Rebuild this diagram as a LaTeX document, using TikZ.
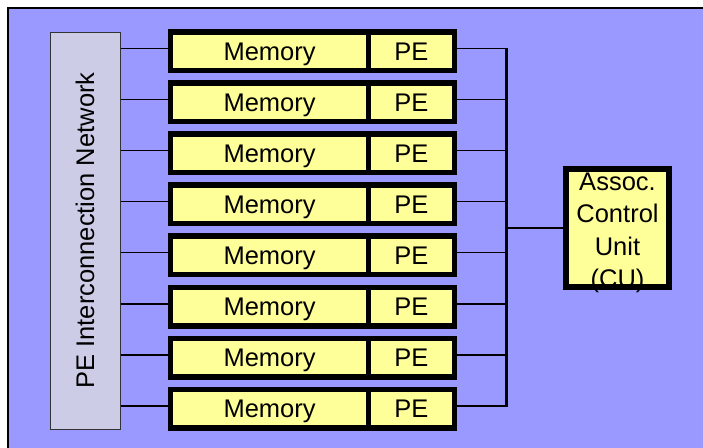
\documentclass[tikz,border=0pt]{standalone}
\usepackage{fontspec}
\setmainfont{Liberation Sans}
\definecolor{bgblue}{HTML}{9999FF}
\definecolor{cellyellow}{HTML}{FFFF99}
\definecolor{netgray}{HTML}{CCCCE6}
\begin{document}
\begin{tikzpicture}[x=1pt,y=-1pt,
  cell/.style={draw=black, line width=5.5pt, fill=cellyellow, minimum height=38.5pt,
    inner sep=0pt, text height=18.2pt, text depth=0pt,
    font=\fontsize{25.5}{30}\selectfont},
  netbox/.style={draw=black!80, line width=1pt, fill=netgray, inner sep=0pt,
    minimum width=70pt, minimum height=397pt, font=\fontsize{25.5}{30}\selectfont},
  cubox/.style={fill=cellyellow, inner sep=0pt, outer sep=0pt,
    minimum width=103pt, minimum height=118pt},
  cutext/.style={align=center, inner sep=0pt, font=\fontsize{25.5}{32.5}\selectfont},
  cuborder/.style={draw=black, line width=6pt},
  wire/.style={draw=black, line width=1.5pt},
  bus/.style={draw=black, line width=3pt}]
\useasboundingbox (0,0) rectangle (703,447);
\clip (0,0) rectangle (703,447);
\fill[white] (0,0) rectangle (703,447);
\draw[line width=2pt, fill=bgblue] (7.7,7.7) rectangle (712,456);
\node[netbox] (net) at (85,230.5) {\rotatebox{90}{PE Interconnection Network}};
\foreach \i in {0,...,7} {
  \pgfmathsetmacro\yc{51+51.1*\i}
  \pgfmathsetmacro\yl{\yc-2.7}
  \coordinate (r\i) at (0,\yl);
  \coordinate (b\i) at (506,\yl);
  \node[cell, minimum width=197.75pt] (m\i) at (269.6,\yc) {Memory};
  \node[cell, minimum width=85.75pt] (p\i) at (411.4,\yc) {PE};
  \draw[wire] (net.east |- r\i) -- (m\i.west |- r\i);
  \draw[wire] (p\i.east |- r\i) -- (b\i);
}
\draw[bus] ([yshift=0.75pt]b0) -- ([yshift=-0.75pt]b7);
\node[cubox] (cu) at (617.5,228) {};
\coordinate (bc) at (506,228);
\draw[wire] (bc) -- (cu.west);
\node[cutext] (cut) at ([yshift=-5pt]cu.center) {Assoc.\\Control\\Unit\\(CU)};
\draw[cuborder] (cu.north west) rectangle (cu.south east);
\end{tikzpicture}
\end{document}
